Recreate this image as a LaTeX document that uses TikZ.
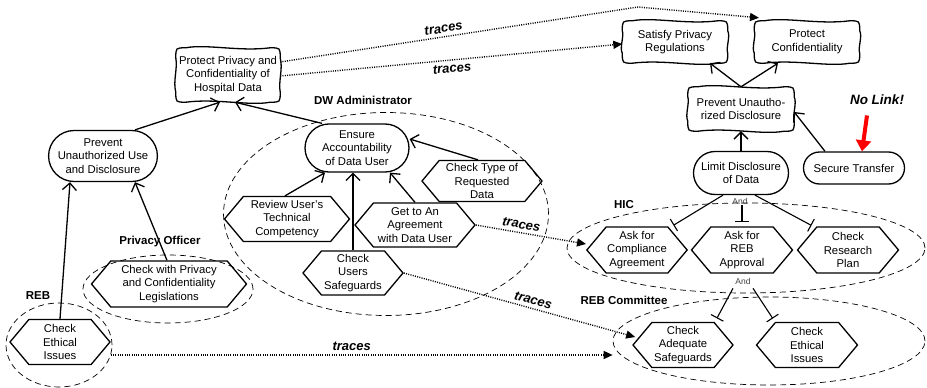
\documentclass[tikz,border=0pt]{standalone}
\usepackage{fontspec}
\setmainfont{Liberation Sans}
\usetikzlibrary{shapes.geometric,shapes.misc,shapes.symbols,arrows.meta,calc}
\newcommand\sgshape[1]{%
  \draw[sgline] ($(#1.north west)+(0,10)$)
   .. controls (#1.north west) .. ($(#1.north west)+(10,0)$)
   .. controls ($(#1.north)+(-22,-4)$) and ($(#1.north)+(12,4)$) .. ($(#1.north east)+(-10,0)$)
   .. controls (#1.north east) .. ($(#1.north east)+(0,10)$)
   .. controls ($(#1.east)+(3,-6)$) and ($(#1.east)+(-2,6)$) .. ($(#1.south east)+(0,-10)$)
   .. controls (#1.south east) .. ($(#1.south east)+(-10,0)$)
   .. controls ($(#1.south)+(22,4)$) and ($(#1.south)+(-12,-4)$) .. ($(#1.south west)+(10,0)$)
   .. controls (#1.south west) .. ($(#1.south west)+(0,-10)$)
   .. controls ($(#1.west)+(-3,6)$) and ($(#1.west)+(2,-6)$) .. cycle;}
\begin{document}
\begin{tikzpicture}[x=1pt,y=-1pt,
  every node/.style={font=\fontsize{11.3}{13.8}\selectfont},
  softgoal/.style={align=center, inner sep=2pt},
  sgline/.style={line width=1.3pt},
  goal/.style={draw, line width=1.3pt, rounded rectangle, align=center, inner sep=2pt},
  task/.style={draw, line width=1.3pt, signal, signal to=east and west, signal pointer angle=100, align=center, inner sep=1pt},
  actor/.style={draw, ellipse, dash pattern=on 6pt off 4pt, line width=0.7pt, inner sep=0pt},
  actorlbl/.style={font=\bfseries\fontsize{11.5}{13}\selectfont},
  contrib/.style={line width=1.3pt, -{Straight Barb[length=7pt,width=14pt]}},
  decomp/.style={line width=1.1pt, -{Bar[width=14pt,line width=1.1pt]}, shorten >=4pt},
  traces/.style={line width=1.4pt, dash pattern=on 1pt off 1.3pt, -{Triangle[length=9pt,width=8pt]}},
  tracelbl/.style={font=\bfseries\itshape\fontsize{13}{15}\selectfont, sloped},
  andlbl/.style={font=\fontsize{8.5}{10}\selectfont, text=black!75, inner sep=1pt},
]
\useasboundingbox (0,0) rectangle (927,388);

% actors
\node[actor, minimum width=325pt, minimum height=203pt] (dw) at (386,214) {};
\node[actor, minimum width=170pt, minimum height=68pt] (po) at (168,289) {};
\node[actor, minimum width=106pt, minimum height=84pt] (reb) at (59,345) {};
\node[actor, minimum width=358pt, minimum height=90pt] (hic) at (746,248) {};
\node[actor, minimum width=312pt, minimum height=88pt] (rebc) at (769,341) {};

\node[actorlbl] (dwl) at (363,100) {DW Administrator};
\node[actorlbl] (pol) at (160,242) {Privacy Officer};
\node[actorlbl] (rebl) at (38,296) {REB};
\node[actorlbl] (hicl) at (624,205) {HIC};
\node[actorlbl] (rebcl) at (624,300) {REB Committee};

% softgoals
\node[softgoal, minimum width=104pt, minimum height=54pt] (sg1) at (228,75) {Protect Privacy and\\Confidentiality of\\Hospital Data};
\node[softgoal, minimum width=105pt, minimum height=42pt] (sg2) at (675,42) {Satisfy Privacy\\Regulations};
\node[softgoal, minimum width=105pt, minimum height=42pt] (sg3) at (807,42) {Protect\\Confidentiality};
\node[softgoal, minimum width=106pt, minimum height=44pt] (sg4) at (741,109) {Prevent Unautho-\\rized Disclosure};
\sgshape{sg1}\sgshape{sg2}\sgshape{sg3}\sgshape{sg4}

% goals
\node[goal, minimum width=107pt, minimum height=51pt] (g5) at (103,156) {Prevent\\Unauthorized Use\\and Disclosure};
\node[goal, minimum width=108pt, minimum height=48pt] (g6) at (357,148) {Ensure\\Accountability\\of Data User};
\node[goal, minimum width=99pt, minimum height=43pt] (g7) at (741,173) {Limit Disclosure\\of Data};
\node[goal, minimum width=105pt, minimum height=32pt] (g8) at (854,168) {Secure Transfer};

% tasks
\node[task, minimum width=125pt, minimum height=45pt] (t9) at (287,219) {Review User’s\\Technical\\Competency};
\node[task, minimum width=120pt, minimum height=44pt] (t10) at (415,225) {Get to An\\Agreement\\with Data User};
\node[task, minimum width=120pt, minimum height=41pt] (t11) at (482,181) {Check Type of\\Requested\\Data};
\node[task, minimum width=100pt, minimum height=44pt] (t12) at (353,273) {Check\\Users\\Safeguards};
\node[task, minimum width=155pt, minimum height=46pt] (t13) at (169,284) {Check with Privacy\\and Confidentiality\\Legislations};
\node[task, minimum width=100pt, minimum height=45pt] (t14) at (60,342) {Check\\Ethical\\Issues};
\node[task, minimum width=99pt, minimum height=46pt] (t15) at (637,250) {Ask for\\Compliance\\Agreement};
\node[task, minimum width=101pt, minimum height=46pt] (t16) at (742,250) {Ask for\\REB\\Approval};
\node[task, minimum width=101pt, minimum height=46pt] (t17) at (848,250) {Check\\Research\\Plan};
\node[task, minimum width=100pt, minimum height=45pt] (t18) at (683,345) {Check\\Adequate\\Safeguards};
\node[task, minimum width=101pt, minimum height=45pt] (t19) at (807,345) {Check\\Ethical\\Issues};

% contributions
\draw[contrib] ([xshift=32pt]g5.north) -- ([xshift=-8pt]sg1.south);
\draw[contrib] ([xshift=-35pt]g6.north) -- ([xshift=7pt]sg1.south);
\draw[contrib] (t14.north) -- ([xshift=-33pt]g5.south);
\draw[contrib] ([xshift=-2pt]t13.north) -- ([xshift=32pt]g5.south);
\draw[contrib] ([xshift=-2pt]t9.north) -- ([xshift=-32pt]g6.south);
\draw[contrib] (t12.north) -- (t12.north |- g6.south);
\draw[contrib] (t10.north) -- ([xshift=33pt]g6.south);
\draw[contrib] ([xshift=-4pt]t11.north) -- ([yshift=9pt]g6.east);
\draw[contrib] (sg4.north) -- ([xshift=35pt]sg2.south);
\draw[contrib] (sg4.north) -- ([xshift=-29pt]sg3.south);
\draw[contrib] (g7.north) -- (sg4.south);
\draw[contrib] ([xshift=-29pt]g8.north) -- ([yshift=-3pt]sg4.east);

% decompositions
\node[andlbl] (and1) at (740,201) {And};
\node[andlbl] (and2) at (743,281) {And};
\draw[decomp] ([xshift=-18pt]g7.south) -- ([xshift=33pt,yshift=-1pt]t15.north);
\draw[decomp] (and1.south -| t16.north) -- (t16.north);
\draw[decomp] ([xshift=14pt]g7.south) -- ([xshift=-33pt,yshift=-1pt]t17.north);
\draw[decomp] ([xshift=-10pt,yshift=-3pt]and2.south) -- ([xshift=32pt]t18.north);
\draw[decomp] ([xshift=10pt,yshift=-3pt]and2.south) -- ([xshift=-32pt]t19.north);

% traces
\coordinate (bend1) at (638,7);
\draw[traces] ([yshift=13pt]sg1.east) -- node[tracelbl, above, pos=0.46] {traces} (bend1) -- ([xshift=-48pt,yshift=3pt]sg3.north);
\draw[traces] ([yshift=-1pt]sg1.east) -- node[tracelbl, below, pos=0.5] {traces} ([yshift=-2pt]sg2.west);
\draw[traces] (t10.east) -- node[tracelbl, above, pos=0.4] {traces} ([yshift=6pt]t15.west);
\draw[traces] (t12.east) -- node[tracelbl, above, pos=0.55] {traces} ([yshift=8pt, xshift=3pt]t18.west);
\draw[traces] ([yshift=-13pt]t14.east) -- node[tracelbl, above, pos=0.48] {traces} ([yshift=-14pt]rebc.west);

% no link
\node[font=\bfseries\itshape\fontsize{13.5}{15}\selectfont] (nolink) at (877,100) {No Link!};
\draw[red, line width=4pt, -{Triangle[length=11pt,width=15pt]}] ([xshift=-10pt,yshift=-7pt]nolink.south) -- ([xshift=8pt]g8.north);
\end{tikzpicture}
\end{document}
